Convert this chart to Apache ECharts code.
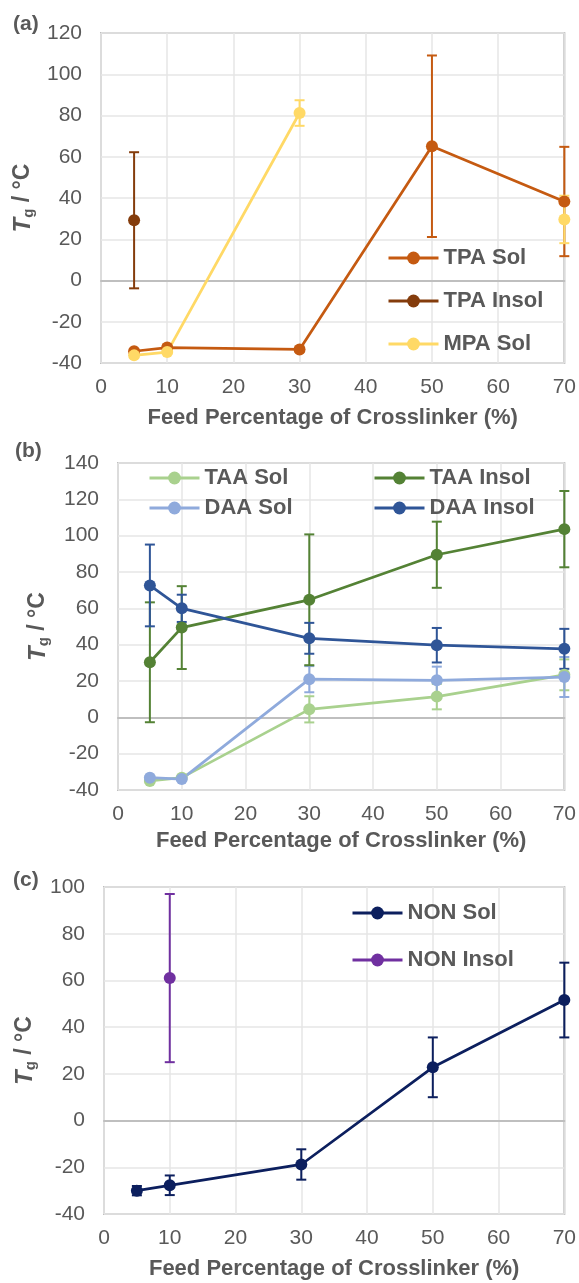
<!DOCTYPE html>
<html>
<head>
<meta charset="utf-8">
<script src="https://cdn.jsdelivr.net/npm/echarts@6/dist/echarts.min.js"></script>
<style>
html, body { margin: 0; padding: 0; background: #fff; }
#chart { width: 579px; height: 1283px; }
</style>
</head>
<body>
<div id="chart"></div>
<script>
// feed percentage of crosslinker
var feed = [5, 10, 30, 50, 70];
var xTicks = [0, 10, 20, 30, 40, 50, 60, 70];

// (a)
var tpaSol = [-34.3, -32.5, -33.4, 65.1, 38.3];
var tpaSolErr = [1, 1, 1, 44, 26.5];
var tpaInsolX = [5];
var tpaInsol = [29.2];
var tpaInsolErr = [33];
var mpaSol = [-36.3, -34.7, 81.2, null, 29.6];
var mpaSolErr = [1, 1, 6.2, null, 11.5];

// (b)
var taaSol = [-35, -33.2, 4.4, 11.4, 23.4];
var taaSolErr = [1, 1, 7.2, 7, 8.5];
var daaSol = [-33.2, -34, 21, 20.4, 22.2];
var daaSolErr = [1, 1, 7.2, 7.5, 11];
var taaInsol = [30.3, 49.4, 64.7, 89.5, 103.6];
var taaInsolErr = [33, 22.8, 36, 18.2, 21];
var daaInsol = [72.6, 60, 43.5, 39.7, 37.7];
var daaInsolErr = [22.5, 7.5, 8.5, 9.5, 11];

// (c)
var nonSol = [-30, -27.7, -18.8, 22.8, 51.6];
var nonSolErr = [2, 4.2, 6.5, 12.8, 16];
var nonInsolX = [10];
var nonInsol = [61];
var nonInsolErr = [36];

var textColor = '#595959';
var fontFam = '"Liberation Sans", Arial, sans-serif';

function pairs(xs, ys) {
    return xs.map(function (x, i) {
        return [x, ys[i] == null ? '-' : ys[i]];
    });
}
function errData(xs, ys, es) {
    var out = [];
    xs.forEach(function (x, i) {
        if (ys[i] == null || es[i] == null) return;
        out.push([x, ys[i] - es[i], ys[i] + es[i]]);
    });
    return out;
}
function errRender(color) {
    return function (params, api) {
        var x = api.value(0);
        var top = api.coord([x, api.value(2)]);
        var bot = api.coord([x, api.value(1)]);
        var w = 5;
        var st = {stroke: color, lineWidth: 2};
        return {
            type: 'group',
            children: [
                {type: 'line', shape: {x1: top[0], y1: top[1], x2: bot[0], y2: bot[1]}, style: st},
                {type: 'line', shape: {x1: top[0] - w, y1: top[1], x2: top[0] + w, y2: top[1]}, style: st},
                {type: 'line', shape: {x1: bot[0] - w, y1: bot[1], x2: bot[0] + w, y2: bot[1]}, style: st}
            ]
        };
    };
}

var series = [];
function addSeries(name, idx, xs, ys, es, color) {
    series.push({
        name: name + ' err',
        type: 'custom',
        xAxisIndex: idx,
        yAxisIndex: idx,
        renderItem: errRender(color),
        encode: {x: 0, y: [1, 2]},
        data: errData(xs, ys, es),
        z: 2,
        silent: true
    });
    series.push({
        name: name,
        type: 'line',
        xAxisIndex: idx,
        yAxisIndex: idx,
        symbol: 'circle',
        symbolSize: 12,
        showSymbol: true,
        connectNulls: false,
        lineStyle: {color: color, width: 2.75},
        itemStyle: {color: color},
        data: pairs(xs, ys),
        z: 3
    });
}

addSeries('TPA Sol', 0, feed, tpaSol, tpaSolErr, '#C55A11');
addSeries('TPA Insol', 0, tpaInsolX, tpaInsol, tpaInsolErr, '#843C0C');
addSeries('MPA Sol', 0, feed, mpaSol, mpaSolErr, '#FFD966');

addSeries('TAA Sol', 1, feed, taaSol, taaSolErr, '#A9D18E');
addSeries('DAA Sol', 1, feed, daaSol, daaSolErr, '#8FAADC');
addSeries('TAA Insol', 1, feed, taaInsol, taaInsolErr, '#548235');
addSeries('DAA Insol', 1, feed, daaInsol, daaInsolErr, '#2F5597');

addSeries('NON Sol', 2, feed, nonSol, nonSolErr, '#0C1F5E');
addSeries('NON Insol', 2, nonInsolX, nonInsol, nonInsolErr, '#7030A0');

var grids = [
    {left: 101, top: 33, width: 465, height: 330},
    {left: 118, top: 463, width: 448, height: 327},
    {left: 104, top: 887, width: 462, height: 327}
];
var yRanges = [[-40, 120], [-40, 140], [-40, 100]];
var yNameGap = [60, 67, 66];
var xNameGap = [44, 40, 44];

function xAxis(i) {
    return {
        type: 'value',
        gridIndex: i,
        min: xTicks[0],
        max: xTicks[xTicks.length - 1],
        interval: 10,
        name: 'Feed Percentage of Crosslinker (%)',
        nameLocation: 'middle',
        nameGap: xNameGap[i],
        nameTextStyle: {color: textColor, fontSize: 22, fontWeight: 'bold', fontFamily: fontFam},
        axisLine: {show: true, lineStyle: {color: '#BFBFBF', width: 2}},
        axisTick: {show: false},
        axisLabel: {color: textColor, fontSize: 21, fontFamily: fontFam, margin: 14},
        splitLine: {show: true, lineStyle: {color: '#E6E6E6', width: 1.5}}
    };
}
function yAxis(i) {
    return {
        type: 'value',
        gridIndex: i,
        min: yRanges[i][0],
        max: yRanges[i][1],
        interval: 20,
        name: '{t|T}{g|g}{u| / °C}',
        nameLocation: 'middle',
        nameGap: yNameGap[i],
        nameTextStyle: {
            color: textColor, fontSize: 23, fontWeight: 'bold', fontFamily: fontFam,
            rich: {
                t: {color: textColor, fontSize: 24, fontWeight: 'bold', fontStyle: 'italic', fontFamily: fontFam, lineHeight: 26},
                g: {color: textColor, fontSize: 15, fontFamily: fontFam, lineHeight: 26, verticalAlign: 'bottom', padding: [10, 0, 0, 0]},
                u: {color: textColor, fontSize: 23, fontWeight: 'bold', fontFamily: fontFam, lineHeight: 26}
            }
        },
        axisLine: {show: false},
        axisTick: {show: false},
        axisLabel: {color: textColor, fontSize: 21, fontFamily: fontFam, margin: 19},
        splitLine: {show: true, lineStyle: {color: '#E6E6E6', width: 1.5}}
    };
}

var legendBase = {
    orient: 'vertical',
    padding: 0,
    itemWidth: 50,
    itemHeight: 16,
    lineStyle: {width: 3},
    textStyle: {color: textColor, fontSize: 22, fontWeight: 'bold', fontFamily: fontFam, lineHeight: 22}
};
function legend(opts) {
    return Object.assign({}, legendBase, opts);
}

var titleStyle = {color: textColor, fontSize: 21, fontWeight: 'bold', fontFamily: fontFam};

var option = {
    animation: false,
    backgroundColor: '#fff',
    title: [
        {text: '(a)', left: 13, top: 14, padding: 0, textStyle: titleStyle},
        {text: '(b)', left: 15, top: 441, padding: 0, textStyle: titleStyle},
        {text: '(c)', left: 13, top: 870, padding: 0, textStyle: titleStyle}
    ],
    grid: grids.map(function (g) {
        return Object.assign({show: true, borderColor: '#BFBFBF', borderWidth: 2, backgroundColor: 'transparent'}, g);
    }),
    xAxis: [xAxis(0), xAxis(1), xAxis(2)],
    yAxis: [yAxis(0), yAxis(1), yAxis(2)],
    legend: [
        legend({left: 387, top: 247, itemGap: 21, data: ['TPA Sol', 'TPA Insol', 'MPA Sol']}),
        legend({left: 148, top: 467, itemGap: 8, data: ['TAA Sol', 'DAA Sol']}),
        legend({left: 373, top: 467, itemGap: 8, data: ['TAA Insol', 'DAA Insol']}),
        legend({left: 351, top: 902, itemGap: 25, data: ['NON Sol', 'NON Insol']})
    ],
    series: series
};

var myChart = echarts.init(document.getElementById('chart'));
myChart.setOption(option);
</script>
</body>
</html>
